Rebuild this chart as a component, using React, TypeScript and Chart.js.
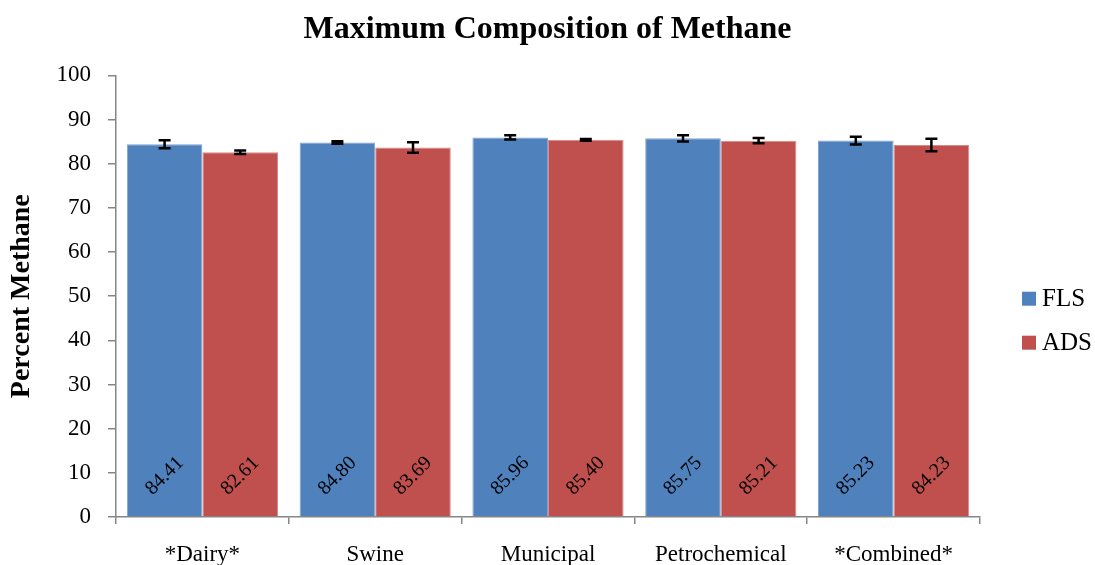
import React, { useEffect, useRef } from "react";
import { Chart, registerables } from "chart.js";
Chart.register(...registerables);

const categories = ["*Dairy*", "Swine", "Municipal", "Petrochemical", "*Combined*"];
const flsValues = [84.41, 84.8, 85.96, 85.75, 85.23];
const adsValues = [82.61, 83.69, 85.4, 85.21, 84.23];
const flsErrors = [0.9, 0.3, 0.5, 0.7, 0.9];
const adsErrors = [0.4, 1.2, 0.2, 0.6, 1.4];
const seriesNames = ["FLS", "ADS"];
const seriesColors = ["#4F81BD", "#C0504D"];
const seriesBorders = ["#7FA3D3", "#D88C8A"];

const SERIF = "'Liberation Serif', 'Times New Roman', serif";

const errorBarPlugin = {
  id: "errorBars",
  afterDatasetsDraw(chart: any) {
    const ctx = chart.ctx;
    const yScale = chart.scales.y;
    const errs = [flsErrors, adsErrors];
    chart.data.datasets.forEach((ds: any, di: number) => {
      const meta = chart.getDatasetMeta(di);
      meta.data.forEach((bar: any, i: number) => {
        const v = ds.data[i];
        const e = errs[di][i];
        const yTop = yScale.getPixelForValue(v + e);
        const yBot = yScale.getPixelForValue(v - e);
        const x = bar.x;
        ctx.save();
        ctx.strokeStyle = "#000";
        ctx.lineWidth = 2.5;
        ctx.beginPath();
        ctx.moveTo(x, yTop);
        ctx.lineTo(x, yBot);
        ctx.moveTo(x - 6, yTop);
        ctx.lineTo(x + 6, yTop);
        ctx.moveTo(x - 6, yBot);
        ctx.lineTo(x + 6, yBot);
        ctx.stroke();
        ctx.restore();
      });
    });
  },
};

const valueLabelPlugin = {
  id: "valueLabels",
  afterDatasetsDraw(chart: any) {
    const ctx = chart.ctx;
    const yScale = chart.scales.y;
    const base = yScale.getPixelForValue(0);
    chart.data.datasets.forEach((ds: any, di: number) => {
      const meta = chart.getDatasetMeta(di);
      meta.data.forEach((bar: any, i: number) => {
        ctx.save();
        ctx.translate(bar.x, base - 41);
        ctx.rotate(-Math.PI / 4);
        ctx.font = `20px ${SERIF}`;
        ctx.fillStyle = "#000";
        ctx.textAlign = "center";
        ctx.textBaseline = "middle";
        ctx.fillText(ds.data[i].toFixed(2), 0, 0);
        ctx.restore();
      });
    });
  },
};

const legendPlugin = {
  id: "customLegend",
  afterDraw(chart: any) {
    const ctx = chart.ctx;
    const area = chart.chartArea;
    const x0 = area.right + 42;
    const yc = (area.top + area.bottom) / 2;
    const ys = [yc + 2.5, yc + 46.5];
    seriesNames.forEach((name, i) => {
      ctx.save();
      ctx.fillStyle = seriesColors[i];
      ctx.fillRect(x0, ys[i] - 7, 14, 14);
      ctx.fillStyle = "#000";
      ctx.font = `25px ${SERIF}`;
      ctx.textAlign = "left";
      ctx.textBaseline = "middle";
      ctx.fillText(name, x0 + 20, ys[i] + 1);
      ctx.restore();
    });
  },
};

export default function App() {
  const ref = useRef<HTMLCanvasElement>(null);
  useEffect(() => {
    const chart = new Chart(ref.current!, {
      type: "bar",
      data: {
        labels: categories,
        datasets: seriesNames.map((name, i) => ({
          label: name,
          data: i === 0 ? flsValues : adsValues,
          backgroundColor: seriesColors[i],
          borderColor: seriesBorders[i],
          borderWidth: 1,
          categoryPercentage: 0.875,
          barPercentage: 1.0,
          yAxisID: "y",
        })),
      },
      options: {
        animation: false,
        responsive: false,
        maintainAspectRatio: false,
        layout: { padding: { top: 0, right: 0, left: 0, bottom: 0 } },
        plugins: {
          title: {
            display: true,
            text: "Maximum Composition of Methane",
            color: "#000",
            font: { family: SERIF, size: 32, weight: "bold" },
            padding: { top: 11, bottom: 26 },
          },
          legend: { display: false },
          tooltip: { enabled: false },
        },
        scales: {
          x: {
            grid: {
              display: true,
              drawOnChartArea: false,
              drawTicks: true,
              tickLength: 7,
              color: "#868686",
              lineWidth: 1.5,
              offset: true,
            },
            border: { color: "#868686", width: 1.5 },
            ticks: {
              color: "#000",
              font: { family: SERIF, size: 23 },
              padding: 17,
              maxRotation: 0,
            },
            afterFit: (s: any) => {
              s.height = 48;
            },
          },
          y: {
            min: 0,
            max: 100,
            grid: {
              display: true,
              drawOnChartArea: false,
              drawTicks: true,
              tickLength: 8,
              color: "#868686",
              lineWidth: 1.5,
            },
            border: { color: "#868686", width: 1.5 },
            ticks: {
              stepSize: 10,
              color: "#000",
              font: { family: SERIF, size: 23 },
              padding: 17,
            },
            title: {
              display: true,
              text: "Percent Methane",
              color: "#000",
              font: { family: SERIF, size: 28, weight: "bold" },
              padding: { top: 5, bottom: 1 },
            },
            afterFit: (s: any) => {
              s.width = 116;
            },
          },
          legendSpace: {
            position: "right",
            display: true,
            grid: { display: false, drawTicks: false },
            border: { display: false },
            ticks: { display: false },
            afterFit: (s: any) => {
              s.width = 115;
            },
          },
        },
      } as any,
      plugins: [errorBarPlugin, valueLabelPlugin, legendPlugin],
    });
    return () => chart.destroy();
  }, []);
  return (
    <div style={{ position: "fixed", left: 0, top: 0, width: 1095, height: 565, background: "#fff" }}>
      <canvas ref={ref} width={1095} height={565} style={{ width: 1095, height: 565 }} />
    </div>
  );
}
